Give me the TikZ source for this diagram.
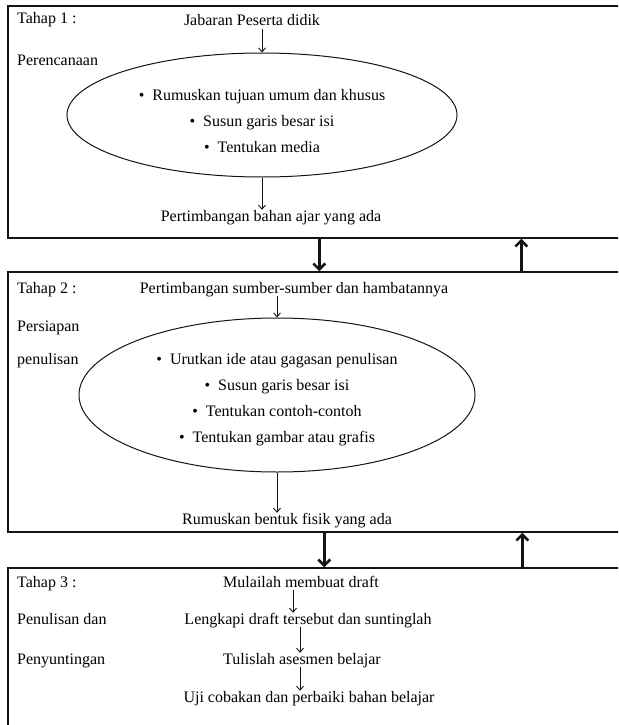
\documentclass[tikz,border=0pt]{standalone}
\usepackage{fontspec}
\setmainfont{Liberation Serif}
\usetikzlibrary{shapes.geometric, arrows.meta, positioning}
\definecolor{dark}{RGB}{20,20,20}

\begin{document}
\begin{tikzpicture}[
    x=1pt, y=-1pt,
    font=\fontsize{16}{26}\selectfont,
    stage/.style={rectangle, draw=dark, line width=1.4pt, inner sep=0pt},
    oval/.style={ellipse, draw=dark, line width=1pt, inner sep=0pt},
    txt/.style={inner sep=0pt, text height=11pt, text depth=3pt},
    side/.style={txt, anchor=west},
    list/.style={inner sep=0pt, align=center},
    arrow/.style={-{Straight Barb[length=4pt, width=7pt]}, line width=0.9pt, dark},
    bigarrow/.style={-{Straight Barb[length=6pt, width=12pt]}, line width=2.6pt, dark},
]
\clip (0,0) rectangle (618,725);

% Tahap 1
\node[stage, minimum width=617pt, minimum height=232pt] (box1) at (316.5,122) {};
\node[side] (t1) at (17,20) {Tahap 1 :};
\node[side] (t1b) at (17,62) {Perencanaan};
\node[txt] (jabaran) at (252,22) {Jabaran Peserta didik};
\node[oval, minimum width=390pt, minimum height=124pt] (ell1) at (262,115) {};
\node[list, yshift=-6pt] (list1) at (ell1.center) {%
    \textbullet\enspace Rumuskan tujuan umum dan khusus\\
    \textbullet\enspace Susun garis besar isi\\
    \textbullet\enspace Tentukan media};
\node[txt] (bahan) at (271,217) {Pertimbangan bahan ajar yang ada};

\draw[arrow] (jabaran.south -| ell1.north) -- (ell1.north);
\draw[arrow] (ell1.south) -- (ell1.south |- bahan.north);

% Tahap 2
\node[stage, minimum width=617pt, minimum height=260pt] (box2) at (316.5,402) {};
\node[side] (t2) at (17,289) {Tahap 2 :};
\node[side] (t2b) at (17,327) {Persiapan};
\node[side] (t2c) at (17,360) {penulisan};
\node[txt] (sumber) at (294,289) {Pertimbangan sumber-sumber dan hambatannya};
\node[oval, minimum width=396pt, minimum height=154pt] (ell2) at (277,395) {};
\node[list, yshift=-5pt] (list2) at (ell2.center) {%
    \textbullet\enspace Urutkan ide atau gagasan penulisan\\
    \textbullet\enspace Susun garis besar isi\\
    \textbullet\enspace Tentukan contoh-contoh\\
    \textbullet\enspace Tentukan gambar atau grafis};
\node[txt] (fisik) at (287,520) {Rumuskan bentuk fisik yang ada};

\draw[arrow] (sumber.south -| ell2.north) -- (ell2.north);
\draw[arrow] (ell2.south) -- (ell2.south |- fisik.north);

% Tahap 3
\node[stage, minimum width=617pt, minimum height=180pt] (box3) at (316.5,658) {};
\node[side] (t3) at (17,583) {Tahap 3 :};
\node[side] (t3b) at (17,620) {Penulisan dan};
\node[side] (t3c) at (17,660) {Penyuntingan};
\node[txt] (mulai) at (301,583) {Mulailah membuat draft};
\node[txt] (lengkapi) at (308,620) {Lengkapi draft tersebut dan suntinglah};
\node[txt] (tulis) at (302,660) {Tulislah asesmen belajar};
\node[txt] (uji) at (309,698) {Uji cobakan dan perbaiki bahan belajar};

\draw[arrow] ([xshift=-8pt]mulai.south) -- ([xshift=-8pt]mulai.south |- lengkapi.north);
\draw[arrow] ([xshift=-8pt]lengkapi.south) -- ([xshift=-8pt]lengkapi.south |- tulis.north);
\draw[arrow] ([xshift=-2pt]tulis.south) -- ([xshift=-2pt]tulis.south |- uji.north);

% Antar tahap
\draw[bigarrow] ([xshift=312pt]box1.south west) -- ([xshift=312pt]box2.north west);
\draw[bigarrow] ([xshift=514pt]box2.north west) -- ([xshift=514pt]box1.south west);
\draw[bigarrow] ([xshift=317pt]box2.south west) -- ([xshift=317pt]box3.north west);
\draw[bigarrow] ([xshift=515pt]box3.north west) -- ([xshift=515pt]box2.south west);

\end{tikzpicture}
\end{document}
